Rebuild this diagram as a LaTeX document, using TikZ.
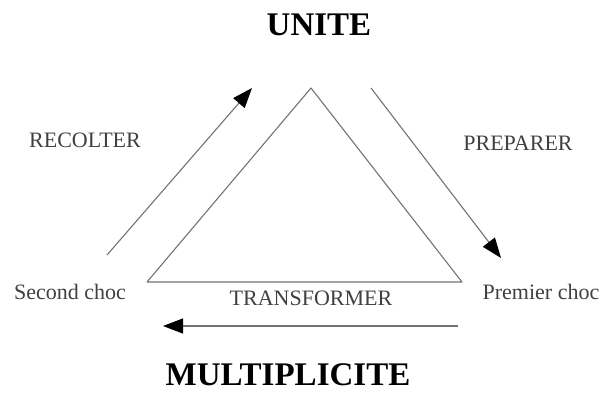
\documentclass[tikz,border=0pt]{standalone}
\usepackage{fontspec}
\setmainfont{Liberation Serif}
\usetikzlibrary{arrows.meta}
\tikzset{
    word/.style={
        text=black!75,
        inner sep=0pt,
        font=\fontsize{22}{24}\selectfont},
    pole/.style={
        inner sep=0pt,
        font=\bfseries\fontsize{33}{36}\selectfont},
    side/.style={
        draw=black!55,
        line width=1.1pt,
        line join=round},
    flow/.style={
        side,
        -{Triangle[length=20pt,width=15pt,color=black]}}}

\begin{document}
\begin{tikzpicture}[x=1pt,y=-1pt]
        \useasboundingbox (0,0) rectangle (602,392);
        % the two poles
        \node[pole] (unite) at (319,25) {UNITE};
        \node[pole] (multi) at (288,375) {MULTIPLICITE};
        % triangle
        \coordinate (top) at (311,88);
        \coordinate (left) at (147,282);
        \coordinate (right) at (462,282);
        \draw[side] (top) -- (left) -- (right) -- cycle;
        % corner and side labels
        \node[word] (second) at (70,292) {Second choc};
        \node[word] (premier) at (541,292) {Premier choc};
        \node[word] (recolter) at (85,140) {RECOLTER};
        \node[word] (preparer) at (518,143) {PREPARER};
        \node[word] (transf) at (311,298) {TRANSFORMER};
        % arrows round the triangle
        \coordinate (r0) at (107,255);
        \coordinate (r1) at (252,88);
        \coordinate (p0) at (371,88);
        \coordinate (p1) at (501,258);
        \coordinate (t0) at (458,326);
        \coordinate (t1) at (163,326);
        \draw[flow] (r0) -- (r1);
        \draw[flow] (p0) -- (p1);
        \draw[flow] (t0) -- (t1);
    \end{tikzpicture}
\end{document}
